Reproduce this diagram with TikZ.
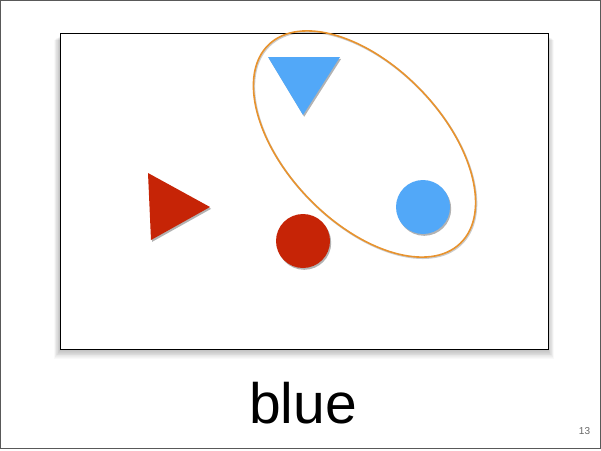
\documentclass[tikz,border=0pt]{standalone}
\usepackage{fontspec}
\setmainfont{Liberation Sans}
\usetikzlibrary{shadows}
\definecolor{sblue}{HTML}{52A8F8}
\definecolor{sred}{HTML}{C62406}
\definecolor{sorange}{HTML}{E8932E}
\tikzset{
  shapeshadow/.style={drop shadow={shadow xshift=1.2pt,shadow yshift=-1.8pt,fill=black,opacity=0.3}},
  bluefill/.style={fill=sblue,shapeshadow},
  redfill/.style={fill=sred,shapeshadow},
  ring/.style={draw=sorange,line width=1.6pt},
}
\begin{document}
\begin{tikzpicture}[x=1pt,y=-1pt]
\useasboundingbox (0,0) rectangle (601,450);
\fill[white] (0,0) rectangle (601,450);
\draw[gray!70!black,line width=1pt] (0.5,0.5) rectangle (600.5,448);
% soft shadow of the frame
\foreach \i in {1,...,10}{
  \fill[black,opacity=0.022] (60-\i*0.6,36+\i*0.4) rectangle (548+\i*0.6,350+\i*0.9);
}
\node[draw=black,line width=0.8pt,fill=white,minimum width=488pt,minimum height=316pt,inner sep=0pt,anchor=north west] (frame) at (60,33) {};
% ellipse
\coordinate (ec) at (364.5,144);
\coordinate (es) at (365.3,145);
\draw[black,opacity=0.2,line width=1.8pt,rotate around={-46:(es)}] (es) ellipse [x radius=138pt, y radius=78pt];
\draw[ring,rotate around={-46:(ec)}] (ec) ellipse [x radius=138pt, y radius=78pt];
% blue triangle
\fill[bluefill] (268,57) -- (340,57) -- (303,115) -- cycle;
% red triangle
\fill[redfill] (148,173) -- (210,207) -- (151,240) -- cycle;
% circles
\node[circle,bluefill,minimum size=54pt,inner sep=0pt] (bc) at (423,207) {};
\node[circle,redfill,minimum size=54pt,inner sep=0pt] (rc) at (303,241) {};
% texts
\node[font=\fontsize{57}{60}\selectfont,anchor=base,inner sep=0pt] (lbl) at (303,423) {blue};
\node[font=\fontsize{10}{12}\selectfont,text=gray!80!black,anchor=base,inner sep=0pt] (num) at (584.5,434) {13};
\end{tikzpicture}
\end{document}
